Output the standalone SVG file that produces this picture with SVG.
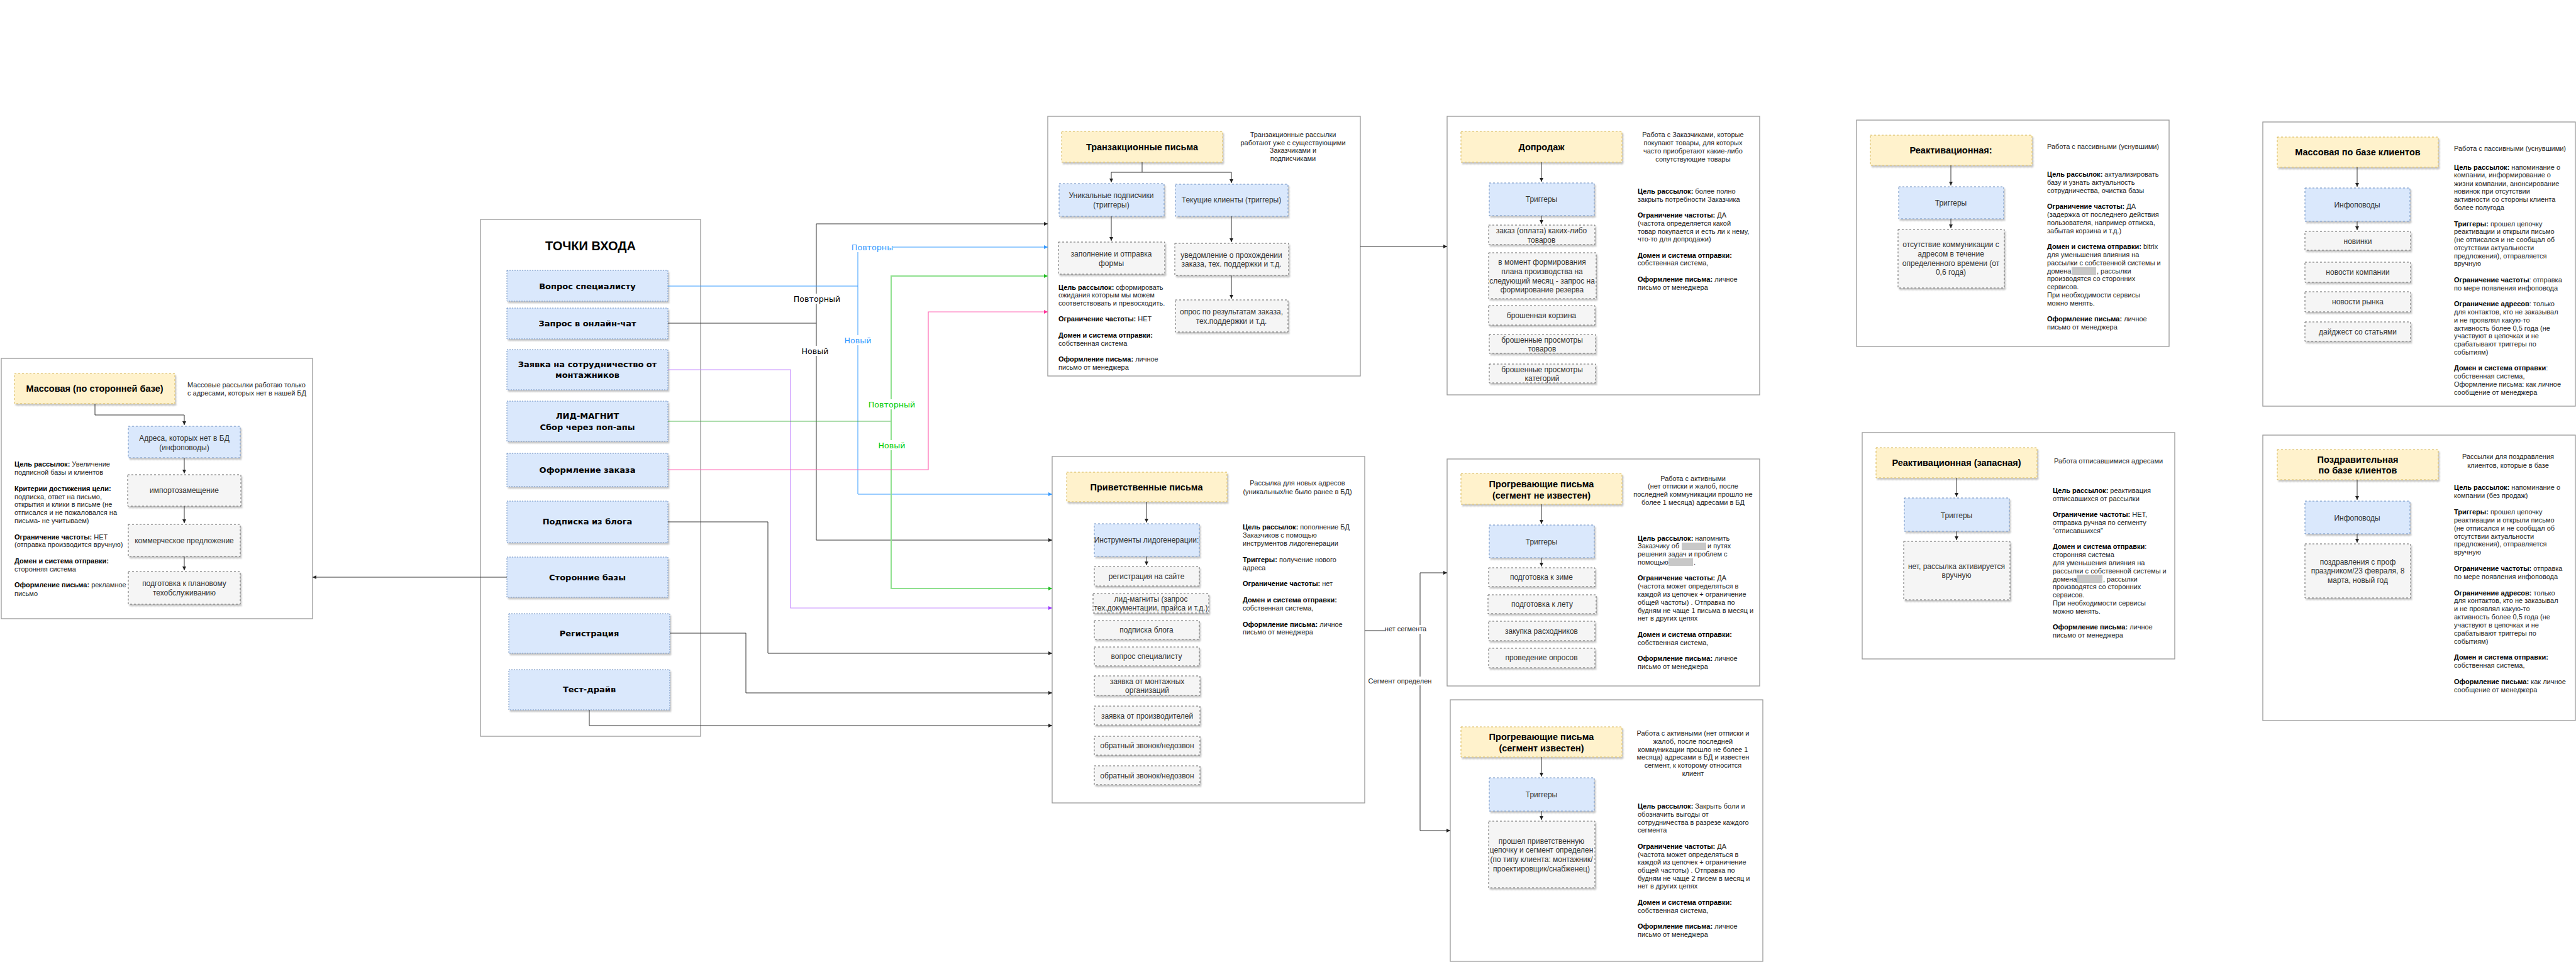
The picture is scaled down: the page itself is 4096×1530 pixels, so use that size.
<svg xmlns="http://www.w3.org/2000/svg" width="4096" height="1530" viewBox="0 0 4096 1530">
<defs>
<filter id="sh" x="-10%" y="-10%" width="130%" height="150%"><feDropShadow dx="2" dy="3" stdDeviation="1.2" flood-color="#000" flood-opacity="0.22"/></filter>
<marker id="aK" markerUnits="userSpaceOnUse" markerWidth="8" markerHeight="8" refX="6" refY="3" orient="auto"><path d="M0,0 L6,3 L0,6 Z" fill="#222"/></marker>
<marker id="aB" markerUnits="userSpaceOnUse" markerWidth="8" markerHeight="8" refX="6" refY="3" orient="auto"><path d="M0,0 L6,3 L0,6 Z" fill="#3399ff"/></marker>
<marker id="aG" markerUnits="userSpaceOnUse" markerWidth="8" markerHeight="8" refX="6" refY="3" orient="auto"><path d="M0,0 L6,3 L0,6 Z" fill="#22bb22"/></marker>
<marker id="aP" markerUnits="userSpaceOnUse" markerWidth="8" markerHeight="8" refX="6" refY="3" orient="auto"><path d="M0,0 L6,3 L0,6 Z" fill="#ff3399"/></marker>
<marker id="aV" markerUnits="userSpaceOnUse" markerWidth="8" markerHeight="8" refX="6" refY="3" orient="auto"><path d="M0,0 L6,3 L0,6 Z" fill="#9933ff"/></marker>
</defs>
<style>
.pn{fill:#fff;stroke:#999;stroke-width:1.3}
.y{fill:#fff2cc;stroke:#d6b656;stroke-dasharray:3 3;filter:url(#sh)}
.bl{fill:#dae8fc;stroke:#6c8ebf;stroke-dasharray:3 3;filter:url(#sh)}
.g{fill:#f5f5f5;stroke:#666;stroke-dasharray:3 3;filter:url(#sh)}
.en{fill:#dae8fc;stroke:#6c8ebf;stroke-dasharray:2 2;filter:url(#sh)}
.h{font-family:"Liberation Sans",Arial,sans-serif;font-size:14.5px;font-weight:bold;fill:#000;text-anchor:middle}
.bt{font-family:"Liberation Sans",Arial,sans-serif;font-size:12px;fill:#333;text-anchor:middle}
.d{font-family:"Liberation Sans",Arial,sans-serif;font-size:11px;fill:#222}
.dc{font-family:"Liberation Sans",Arial,sans-serif;font-size:11px;fill:#222;text-anchor:middle}
.k{font-weight:bold;fill:#000}
.et{font-family:"DejaVu Sans",Verdana,sans-serif;font-size:13px;font-weight:bold;fill:#000;text-anchor:middle}
.tt{font-family:"Liberation Sans",Arial,sans-serif;font-size:20px;font-weight:bold;fill:#000;text-anchor:middle}
.cl{font-family:"DejaVu Sans",Verdana,sans-serif;font-size:12.7px;text-anchor:middle}
.cs{font-family:"Liberation Sans",Arial,sans-serif;font-size:11px;fill:#222;text-anchor:middle}
.c{fill:none;stroke:#333;stroke-width:1}
.lb{fill:#fff}
.red{fill:#c8c8c8}
</style>
<rect width="4096" height="1530" fill="#fff"/>

<!-- Left panel: Массовая по сторонней базе -->
<g id="mass-third">
<rect class="pn" x="2" y="570" width="495" height="414"/>
<rect class="y" x="23" y="594" width="255" height="48"/>
<text class="h" x="150.5" y="623">Массовая (по сторонней базе)</text>
<text class="d"><tspan x="298" y="616">Массовые рассылки работаю только</tspan><tspan x="298" y="629">с адресами, которых нет в нашей БД</tspan></text>
<rect class="bl" x="204" y="678" width="178" height="50"/>
<text class="bt"><tspan x="293" y="701">Адреса, которых нет в БД</tspan><tspan x="293" y="716">(инфоповоды)</tspan></text>
<rect class="g" x="203" y="755" width="180" height="50"/>
<text class="bt" x="293" y="784">импортозамещение</text>
<rect class="g" x="204" y="834" width="178" height="51"/>
<text class="bt" x="293" y="864">коммерческое предложение</text>
<rect class="g" x="204" y="909" width="178" height="52"/>
<text class="bt"><tspan x="293" y="932">подготовка к плановому</tspan><tspan x="293" y="947">техобслуживанию</tspan></text>
<text class="d">
<tspan x="23" y="742"><tspan class="k">Цель рассылок:</tspan> Увеличение</tspan>
<tspan x="23" y="755">подписной базы и клиентов</tspan>
<tspan x="23" y="781" class="k">Критерии достижения цели:</tspan>
<tspan x="23" y="794">подписка, ответ на письмо,</tspan>
<tspan x="23" y="806">открытия и клики в письме (не</tspan>
<tspan x="23" y="819">отписался и не пожаловался на</tspan>
<tspan x="23" y="832">письма- не учитываем)</tspan>
<tspan x="23" y="858"><tspan class="k">Ограничение частоты:</tspan> НЕТ</tspan>
<tspan x="23" y="870">(отправка производится вручную)</tspan>
<tspan x="23" y="896" class="k">Домен и система отправки:</tspan>
<tspan x="23" y="909">сторонняя система</tspan>
<tspan x="23" y="934"><tspan class="k">Оформление письма:</tspan> рекламное</tspan>
<tspan x="23" y="948">письмо</tspan>
</text>
<path class="c" d="M151,642 V660 H293 V676" marker-end="url(#aK)"/>
<path class="c" d="M293,728 V753" marker-end="url(#aK)"/>
<path class="c" d="M293,805 V832" marker-end="url(#aK)"/>
<path class="c" d="M293,885 V907" marker-end="url(#aK)"/>
</g>

<!-- Entry points -->
<g id="entry-points">
<rect class="pn" x="764" y="349" width="350" height="822"/>
<text class="tt" x="939" y="398">ТОЧКИ ВХОДА</text>
<rect class="en" x="806" y="430" width="256" height="49"/>
<text class="et" x="934" y="459.5">Вопрос специалисту</text>
<rect class="en" x="806" y="490" width="256" height="49"/>
<text class="et" x="934" y="519">Запрос в онлайн-чат</text>
<rect class="en" x="806" y="556" width="256" height="64"/>
<text class="et"><tspan x="934" y="584">Заявка на сотрудничество от</tspan><tspan x="934" y="601">монтажников</tspan></text>
<rect class="en" x="806" y="638" width="256" height="64"/>
<text class="et"><tspan x="934" y="666">ЛИД-МАГНИТ</tspan><tspan x="934" y="684">Сбор через поп-апы</tspan></text>
<rect class="en" x="806" y="721" width="256" height="53"/>
<text class="et" x="934" y="752">Оформление заказа</text>
<rect class="en" x="806" y="797" width="256" height="66"/>
<text class="et" x="934" y="834">Подписка из блога</text>
<rect class="en" x="806" y="886" width="256" height="64"/>
<text class="et" x="934" y="923">Сторонние базы</text>
<rect class="en" x="809" y="976" width="256" height="63"/>
<text class="et" x="937" y="1012">Регистрация</text>
<rect class="en" x="809" y="1065" width="256" height="64"/>
<text class="et" x="937" y="1101">Тест-драйв</text>
</g>

<!-- Transactional -->
<g id="transactional">
<rect class="pn" x="1666" y="185" width="497" height="413"/>
<rect class="y" x="1688" y="209" width="256" height="49"/>
<text class="h" x="1816" y="239">Транзакционные письма</text>
<text class="dc"><tspan x="2056" y="218">Транзакционные рассылки</tspan><tspan x="2056" y="231">работают уже с существующими</tspan><tspan x="2056" y="243">Заказчиками и</tspan><tspan x="2056" y="256">подписчиками</tspan></text>
<rect class="bl" x="1684" y="292" width="167" height="52"/>
<text class="bt"><tspan x="1767" y="315">Уникальные подписчики</tspan><tspan x="1767" y="330">(триггеры)</tspan></text>
<rect class="bl" x="1869" y="293" width="179" height="51"/>
<text class="bt" x="1958" y="322">Текущие клиенты (триггеры)</text>
<rect class="g" x="1683" y="385" width="169" height="51"/>
<text class="bt"><tspan x="1767" y="408">заполнение и отправка</tspan><tspan x="1767" y="423">формы</tspan></text>
<rect class="g" x="1868" y="387" width="181" height="51"/>
<text class="bt"><tspan x="1958" y="410">уведомление о прохождении</tspan><tspan x="1958" y="424">заказа, тех. поддержки и т.д.</tspan></text>
<rect class="g" x="1869" y="477" width="179" height="51"/>
<text class="bt"><tspan x="1958" y="500">опрос по результатам заказа,</tspan><tspan x="1958" y="515">тех.поддержки и т.д.</tspan></text>
<text class="d">
<tspan x="1683" y="461"><tspan class="k">Цель рассылок:</tspan> сформировать</tspan>
<tspan x="1683" y="473">ожидания которым мы можем</tspan>
<tspan x="1683" y="486">соответствовать и превосходить.</tspan>
<tspan x="1683" y="511"><tspan class="k">Ограничение частоты:</tspan> НЕТ</tspan>
<tspan x="1683" y="537" class="k">Домен и система отправки:</tspan>
<tspan x="1683" y="550">собственная система</tspan>
<tspan x="1683" y="575"><tspan class="k">Оформление письма:</tspan> личное</tspan>
<tspan x="1683" y="588">письмо от менеджера</tspan>
</text>
<path class="c" d="M1816,258 V274 H1767 V290" marker-end="url(#aK)"/>
<path class="c" d="M1816,274 H1958 V291" marker-end="url(#aK)"/>
<path class="c" d="M1767,344 V383" marker-end="url(#aK)"/>
<path class="c" d="M1958,344 V385" marker-end="url(#aK)"/>
<path class="c" d="M1958,438 V475" marker-end="url(#aK)"/>
</g>

<!-- Upsell -->
<g id="upsell">
<rect class="pn" x="2301" y="185" width="497" height="443"/>
<rect class="y" x="2323" y="209" width="256" height="49"/>
<text class="h" x="2451" y="239">Допродаж</text>
<text class="dc"><tspan x="2692" y="218">Работа с Заказчиками, которые</tspan><tspan x="2692" y="231">покупают товары, для которых</tspan><tspan x="2692" y="244">часто приобретают какие-либо</tspan><tspan x="2692" y="257">сопутствующие товары</tspan></text>
<rect class="bl" x="2368" y="291" width="167" height="52"/>
<text class="bt" x="2451" y="321">Триггеры</text>
<rect class="g" x="2367" y="358" width="169" height="31"/>
<text class="bt"><tspan x="2451" y="371">заказ (оплата) каких-либо</tspan><tspan x="2451" y="386">товаров</tspan></text>
<rect class="g" x="2367" y="402" width="171" height="73"/>
<text class="bt"><tspan x="2452" y="421">в момент формирования</tspan><tspan x="2452" y="436">плана производства на</tspan><tspan x="2452" y="451">следующий месяц - запрос на</tspan><tspan x="2452" y="465">формирование резерва</tspan></text>
<rect class="g" x="2367" y="486" width="169" height="31"/>
<text class="bt" x="2451" y="506">брошенная корзина</text>
<rect class="g" x="2368" y="532" width="169" height="30"/>
<text class="bt"><tspan x="2452" y="545">брошенные просмотры</tspan><tspan x="2452" y="559">товаров</tspan></text>
<rect class="g" x="2368" y="579" width="169" height="30"/>
<text class="bt"><tspan x="2452" y="592">брошенные просмотры</tspan><tspan x="2452" y="606">категорий</tspan></text>
<text class="d">
<tspan x="2604" y="308"><tspan class="k">Цель рассылок:</tspan> более полно</tspan>
<tspan x="2604" y="321">закрыть потребности Заказчика</tspan>
<tspan x="2604" y="346"><tspan class="k">Ограничение частоты:</tspan> ДА</tspan>
<tspan x="2604" y="359">(частота определяется какой</tspan>
<tspan x="2604" y="372">товар покупается и есть ли к нему,</tspan>
<tspan x="2604" y="384">что-то для допродажи)</tspan>
<tspan x="2604" y="410" class="k">Домен и система отправки:</tspan>
<tspan x="2604" y="422">собственная система,</tspan>
<tspan x="2604" y="448"><tspan class="k">Оформление письма:</tspan> личное</tspan>
<tspan x="2604" y="461">письмо от менеджера</tspan>
</text>
<path class="c" d="M2451,258 V289" marker-end="url(#aK)"/>
<path class="c" d="M2451,343 V356" marker-end="url(#aK)"/>
</g>

<!-- Reactivation -->
<g id="reactivation">
<rect class="pn" x="2952" y="191" width="497" height="360"/>
<rect class="y" x="2974" y="215" width="257" height="48"/>
<text class="h" x="3102" y="244">Реактивационная:</text>
<text class="d" x="3255" y="237">Работа с пассивными (уснувшими)</text>
<rect class="bl" x="3019" y="297" width="167" height="51"/>
<text class="bt" x="3102" y="327">Триггеры</text>
<rect class="g" x="3018" y="365" width="169" height="93"/>
<text class="bt"><tspan x="3102" y="393">отсутствие коммуникации с</tspan><tspan x="3102" y="408">адресом в течение</tspan><tspan x="3102" y="423">определенного времени (от</tspan><tspan x="3102" y="437">0,6 года)</tspan></text>
<rect class="red" x="3294" y="425" width="39" height="12"/>
<text class="d">
<tspan x="3255" y="281"><tspan class="k">Цель рассылок:</tspan> актуализировать</tspan>
<tspan x="3255" y="294">базу и узнать актуальность</tspan>
<tspan x="3255" y="307">сотрудничества, очистка базы</tspan>
<tspan x="3255" y="332"><tspan class="k">Ограничение частоты:</tspan> ДА</tspan>
<tspan x="3255" y="345">(задержка от последнего действия</tspan>
<tspan x="3255" y="358">пользователя, например отписка,</tspan>
<tspan x="3255" y="371">забытая корзина и т.д.)</tspan>
<tspan x="3255" y="396"><tspan class="k">Домен и система отправки:</tspan> bitrix</tspan>
<tspan x="3255" y="409">для уменьшения влияния на</tspan>
<tspan x="3255" y="422">рассылки с собственной системы и</tspan>
<tspan x="3255" y="435">домена</tspan><tspan x="3334" y="435">, рассылки</tspan>
<tspan x="3255" y="447">производятся со сторонних</tspan>
<tspan x="3255" y="460">сервисов.</tspan>
<tspan x="3255" y="473">При необходимости сервисы</tspan>
<tspan x="3255" y="486">можно менять.</tspan>
<tspan x="3255" y="511"><tspan class="k">Оформление письма:</tspan> личное</tspan>
<tspan x="3255" y="524">письмо от менеджера</tspan>
</text>
<path class="c" d="M3102,263 V295" marker-end="url(#aK)"/>
<path class="c" d="M3102,348 V363" marker-end="url(#aK)"/>
</g>

<!-- Mass by client base -->
<g id="mass-clients">
<rect class="pn" x="3598" y="194" width="497" height="452"/>
<rect class="y" x="3621" y="218" width="256" height="48"/>
<text class="h" x="3749" y="247">Массовая по базе клиентов</text>
<text class="d" x="3902" y="240">Работа с пассивными (уснувшими)</text>
<rect class="bl" x="3665" y="299" width="167" height="53"/>
<text class="bt" x="3748" y="330">Инфоповоды</text>
<rect class="g" x="3665" y="368" width="168" height="30"/>
<text class="bt" x="3749" y="388">новинки</text>
<rect class="g" x="3665" y="417" width="168" height="32"/>
<text class="bt" x="3749" y="437">новости компании</text>
<rect class="g" x="3665" y="464" width="168" height="32"/>
<text class="bt" x="3749" y="484">новости рынка</text>
<rect class="g" x="3665" y="512" width="168" height="31"/>
<text class="bt" x="3749" y="532">дайджест со статьями</text>
<text class="d">
<tspan x="3902" y="270"><tspan class="k">Цель рассылок:</tspan> напоминание о</tspan>
<tspan x="3902" y="282">компании, информирование о</tspan>
<tspan x="3902" y="296">жизни компании, анонсирование</tspan>
<tspan x="3902" y="308">новинок при отсутствии</tspan>
<tspan x="3902" y="321">активности со стороны клиента</tspan>
<tspan x="3902" y="334">более полугода</tspan>
<tspan x="3902" y="360"><tspan class="k">Триггеры:</tspan> прошел цепочку</tspan>
<tspan x="3902" y="372">реактивации и открыли письмо</tspan>
<tspan x="3902" y="385">(не отписался и не сообщал об</tspan>
<tspan x="3902" y="398">отсутствии актуальности</tspan>
<tspan x="3902" y="411">предложения), отправляется</tspan>
<tspan x="3902" y="423">вручную</tspan>
<tspan x="3902" y="449"><tspan class="k">Ограничение частоты</tspan>: отправка</tspan>
<tspan x="3902" y="462">по мере появления инфоповода</tspan>
<tspan x="3902" y="487"><tspan class="k">Ограничение адресов</tspan>: только</tspan>
<tspan x="3902" y="500">для контактов, кто не заказывал</tspan>
<tspan x="3902" y="513">и не проявлял какую-то</tspan>
<tspan x="3902" y="526">активность более 0,5 года (не</tspan>
<tspan x="3902" y="538">участвуют в цепочках и не</tspan>
<tspan x="3902" y="551">срабатывают триггеры по</tspan>
<tspan x="3902" y="564">событиям)</tspan>
<tspan x="3902" y="589"><tspan class="k">Домен и система отправки</tspan>:</tspan>
<tspan x="3902" y="602">собственная система,</tspan>
<tspan x="3902" y="615">Оформление письма: как личное</tspan>
<tspan x="3902" y="628">сообщение от менеджера</tspan>
</text>
<path class="c" d="M3748,266 V297" marker-end="url(#aK)"/>
<path class="c" d="M3748,352 V366" marker-end="url(#aK)"/>
</g>

<!-- Welcome -->
<g id="welcome">
<rect class="pn" x="1673" y="726" width="497" height="551"/>
<rect class="y" x="1696" y="751" width="255" height="47"/>
<text class="h" x="1823" y="780">Приветственные  письма</text>
<text class="dc"><tspan x="2063" y="772">Рассылка для новых адресов</tspan><tspan x="2063" y="786">(уникальных/не было ранее в БД)</tspan></text>
<rect class="bl" x="1740" y="833" width="167" height="52"/>
<text class="bt" x="1823" y="863">Инструменты лидогенерации:</text>
<rect class="g" x="1740" y="901" width="167" height="31"/>
<text class="bt" x="1823" y="921">регистрация на сайте</text>
<rect class="g" x="1738" y="944" width="184" height="31"/>
<text class="bt"><tspan x="1830" y="957">лид-магниты (запрос</tspan><tspan x="1830" y="971">тех.документации, прайса и т.д.)</tspan></text>
<rect class="g" x="1740" y="987" width="167" height="30"/>
<text class="bt" x="1823" y="1006">подписка блога</text>
<rect class="g" x="1740" y="1029" width="167" height="30"/>
<text class="bt" x="1823" y="1048">вопрос специалисту</text>
<rect class="g" x="1740" y="1075" width="168" height="31"/>
<text class="bt"><tspan x="1824" y="1088">заявка от монтажных</tspan><tspan x="1824" y="1102">организаций</tspan></text>
<rect class="g" x="1740" y="1123" width="168" height="30"/>
<text class="bt" x="1824" y="1143">заявка от производителей</text>
<rect class="g" x="1740" y="1171" width="168" height="30"/>
<text class="bt" x="1824" y="1190">обратный звонок/недозвон</text>
<rect class="g" x="1740" y="1218" width="168" height="30"/>
<text class="bt" x="1824" y="1238">обратный звонок/недозвон</text>
<text class="d">
<tspan x="1976" y="842"><tspan class="k">Цель рассылок:</tspan> пополнение БД</tspan>
<tspan x="1976" y="855">Заказчиков с помощью</tspan>
<tspan x="1976" y="868">инструментов лидогенерации</tspan>
<tspan x="1976" y="894"><tspan class="k">Триггеры:</tspan> получение нового</tspan>
<tspan x="1976" y="907">адреса</tspan>
<tspan x="1976" y="932"><tspan class="k">Ограничение частоты:</tspan> нет</tspan>
<tspan x="1976" y="958" class="k">Домен и система отправки:</tspan>
<tspan x="1976" y="971">собственная система,</tspan>
<tspan x="1976" y="997"><tspan class="k">Оформление письма:</tspan> личное</tspan>
<tspan x="1976" y="1009">письмо от менеджера</tspan>
</text>
<path class="c" d="M1823,798 V831" marker-end="url(#aK)"/>
<path class="c" d="M1823,885 V899" marker-end="url(#aK)"/>
</g>

<!-- Warm-up (unknown segment) -->
<g id="warmup-unknown">
<rect class="pn" x="2301" y="730" width="497" height="361"/>
<rect class="y" x="2323" y="753" width="256" height="49"/>
<text class="h"><tspan x="2451" y="775">Прогревающие  письма</tspan><tspan x="2451" y="793">(сегмент не известен)</tspan></text>
<text class="dc"><tspan x="2692" y="765">Работа с активными</tspan><tspan x="2692" y="777">(нет отписки и жалоб, после</tspan><tspan x="2692" y="790">последней коммуникации прошло не</tspan><tspan x="2692" y="803">более 1 месяца) адресами в БД</tspan></text>
<rect class="bl" x="2368" y="835" width="167" height="52"/>
<text class="bt" x="2451" y="866">Триггеры</text>
<rect class="g" x="2367" y="903" width="169" height="30"/>
<text class="bt" x="2451" y="922">подготовка к зиме</text>
<rect class="g" x="2366" y="946" width="172" height="30"/>
<text class="bt" x="2452" y="965">подготовка к лету</text>
<rect class="g" x="2367" y="988" width="169" height="31"/>
<text class="bt" x="2451" y="1008">закупка расходников</text>
<rect class="g" x="2367" y="1031" width="169" height="31"/>
<text class="bt" x="2451" y="1050">проведение опросов</text>
<rect class="red" x="2674" y="863" width="39" height="12"/>
<rect class="red" x="2653" y="888" width="39" height="12"/>
<text class="d">
<tspan x="2604" y="860"><tspan class="k">Цель рассылок:</tspan> напомнить</tspan>
<tspan x="2604" y="872">Заказчику об</tspan><tspan x="2715" y="872">и путях</tspan>
<tspan x="2604" y="885">решения задач и проблем с</tspan>
<tspan x="2604" y="898">помощью</tspan><tspan x="2693" y="898">.</tspan>
<tspan x="2604" y="923"><tspan class="k">Ограничение частоты:</tspan> ДА</tspan>
<tspan x="2604" y="936">(частота может определяться в</tspan>
<tspan x="2604" y="949">каждой из цепочек + ограничение</tspan>
<tspan x="2604" y="962">общей частоты) . Отправка по</tspan>
<tspan x="2604" y="975">будням не чаще 1 письма в месяц и</tspan>
<tspan x="2604" y="987">нет в других цепях</tspan>
<tspan x="2604" y="1013" class="k">Домен и система отправки:</tspan>
<tspan x="2604" y="1026">собственная система,</tspan>
<tspan x="2604" y="1051"><tspan class="k">Оформление письма:</tspan> личное</tspan>
<tspan x="2604" y="1064">письмо от менеджера</tspan>
</text>
<path class="c" d="M2451,802 V833" marker-end="url(#aK)"/>
<path class="c" d="M2451,887 V901" marker-end="url(#aK)"/>
</g>

<!-- Warm-up (known segment) -->
<g id="warmup-known">
<rect class="pn" x="2306" y="1113" width="497" height="416"/>
<rect class="y" x="2323" y="1156" width="256" height="48"/>
<text class="h"><tspan x="2451" y="1177">Прогревающие  письма</tspan><tspan x="2451" y="1195">(сегмент известен)</tspan></text>
<text class="dc"><tspan x="2692" y="1170">Работа с активными (нет отписки и</tspan><tspan x="2692" y="1183">жалоб, после последней</tspan><tspan x="2692" y="1196">коммуникации прошло не более 1</tspan><tspan x="2692" y="1208">месяца) адресами в БД и известен</tspan><tspan x="2692" y="1221">сегмент, к которому относится</tspan><tspan x="2692" y="1234">клиент</tspan></text>
<rect class="bl" x="2368" y="1237" width="167" height="53"/>
<text class="bt" x="2451" y="1268">Триггеры</text>
<rect class="g" x="2367" y="1306" width="169" height="106"/>
<text class="bt"><tspan x="2451" y="1342">прошел приветственную</tspan><tspan x="2451" y="1356">цепочку и сегмент определен</tspan><tspan x="2451" y="1371">(по типу клиента: монтажник/</tspan><tspan x="2451" y="1386">проектировщик/снабженец)</tspan></text>
<text class="d">
<tspan x="2604" y="1286"><tspan class="k">Цель рассылок:</tspan> Закрыть боли и</tspan>
<tspan x="2604" y="1299">обозначить выгоды от</tspan>
<tspan x="2604" y="1312">сотрудничества в разрезе каждого</tspan>
<tspan x="2604" y="1324">сегмента</tspan>
<tspan x="2604" y="1350"><tspan class="k">Ограничение частоты:</tspan> ДА</tspan>
<tspan x="2604" y="1363">(частота может определяться в</tspan>
<tspan x="2604" y="1375">каждой из цепочек + ограничение</tspan>
<tspan x="2604" y="1388">общей частоты) . Отправка по</tspan>
<tspan x="2604" y="1401">будням не чаще 2 писем в месяц и</tspan>
<tspan x="2604" y="1413">нет в других цепях</tspan>
<tspan x="2604" y="1439" class="k">Домен и система отправки:</tspan>
<tspan x="2604" y="1452">собственная система,</tspan>
<tspan x="2604" y="1477"><tspan class="k">Оформление письма:</tspan> личное</tspan>
<tspan x="2604" y="1490">письмо от менеджера</tspan>
</text>
<path class="c" d="M2451,1204 V1235" marker-end="url(#aK)"/>
<path class="c" d="M2451,1290 V1304" marker-end="url(#aK)"/>
</g>

<!-- Reactivation (reserve) -->
<g id="reactivation-reserve">
<rect class="pn" x="2961" y="688" width="497" height="360"/>
<rect class="y" x="2983" y="712" width="256" height="48"/>
<text class="h" x="3111" y="741">Реактивационная (запасная)</text>
<text class="d" x="3266" y="737">Работа отписавшимися адресами</text>
<rect class="bl" x="3028" y="792" width="167" height="53"/>
<text class="bt" x="3111" y="824">Триггеры</text>
<rect class="g" x="3027" y="861" width="169" height="93"/>
<text class="bt"><tspan x="3111" y="905">нет, рассылка активируется</tspan><tspan x="3111" y="919">вручную</tspan></text>
<rect class="red" x="3302" y="914" width="41" height="13"/>
<text class="d">
<tspan x="3264" y="784"><tspan class="k">Цель рассылок:</tspan> реактивация</tspan>
<tspan x="3264" y="797">отписавшихся от рассылки</tspan>
<tspan x="3264" y="822"><tspan class="k">Ограничение частоты:</tspan> НЕТ,</tspan>
<tspan x="3264" y="835">отправка ручная по сегменту</tspan>
<tspan x="3264" y="848">“отписавшихся”</tspan>
<tspan x="3264" y="873"><tspan class="k">Домен и система отправки</tspan>:</tspan>
<tspan x="3264" y="886">сторонняя система</tspan>
<tspan x="3264" y="899">для уменьшения влияния на</tspan>
<tspan x="3264" y="912">рассылки с собственной системы и</tspan>
<tspan x="3264" y="925">домена</tspan><tspan x="3344" y="925">, рассылки</tspan>
<tspan x="3264" y="937">производятся со сторонних</tspan>
<tspan x="3264" y="950">сервисов.</tspan>
<tspan x="3264" y="963">При необходимости сервисы</tspan>
<tspan x="3264" y="976">можно менять.</tspan>
<tspan x="3264" y="1001"><tspan class="k">Оформление письма:</tspan> личное</tspan>
<tspan x="3264" y="1014">письмо от менеджера</tspan>
</text>
<path class="c" d="M3111,760 V790" marker-end="url(#aK)"/>
<path class="c" d="M3111,845 V859" marker-end="url(#aK)"/>
</g>

<!-- Congratulation -->
<g id="congrats">
<rect class="pn" x="3598" y="692" width="497" height="454"/>
<rect class="y" x="3621" y="715" width="256" height="48"/>
<text class="h"><tspan x="3749" y="736">Поздравительная</tspan><tspan x="3749" y="753">по базе клиентов</tspan></text>
<text class="dc"><tspan x="3988" y="730">Рассылки для поздравления</tspan><tspan x="3988" y="744">клиентов, которые в базе</tspan></text>
<rect class="bl" x="3665" y="797" width="167" height="52"/>
<text class="bt" x="3748" y="828">Инфоповоды</text>
<rect class="g" x="3665" y="865" width="168" height="86"/>
<text class="bt"><tspan x="3749" y="898">поздравления  с проф</tspan><tspan x="3749" y="912">праздником/23 февраля, 8</tspan><tspan x="3749" y="927">марта, новый год</tspan></text>
<text class="d">
<tspan x="3902" y="779"><tspan class="k">Цель рассылок:</tspan> напоминание о</tspan>
<tspan x="3902" y="792">компании (без продаж)</tspan>
<tspan x="3902" y="818"><tspan class="k">Триггеры:</tspan> прошел цепочку</tspan>
<tspan x="3902" y="831">реактивации и открыли письмо</tspan>
<tspan x="3902" y="844">(не отписался и не сообщал об</tspan>
<tspan x="3902" y="857">отсутствии актуальности</tspan>
<tspan x="3902" y="869">предложения), отправляется</tspan>
<tspan x="3902" y="882">вручную</tspan>
<tspan x="3902" y="908"><tspan class="k">Ограничение частоты:</tspan> отправка</tspan>
<tspan x="3902" y="921">по мере появления инфоповода</tspan>
<tspan x="3902" y="947"><tspan class="k">Ограничение адресов:</tspan> только</tspan>
<tspan x="3902" y="959">для контактов, кто не заказывал</tspan>
<tspan x="3902" y="972">и не проявлял какую-то</tspan>
<tspan x="3902" y="985">активность более 0,5 года (не</tspan>
<tspan x="3902" y="998">участвуют в цепочках и не</tspan>
<tspan x="3902" y="1011">срабатывают триггеры по</tspan>
<tspan x="3902" y="1024">событиям)</tspan>
<tspan x="3902" y="1049" class="k">Домен и система отправки:</tspan>
<tspan x="3902" y="1062">собственная система,</tspan>
<tspan x="3902" y="1088"><tspan class="k">Оформление письма:</tspan> как личное</tspan>
<tspan x="3902" y="1101">сообщение от менеджера</tspan>
</text>
<path class="c" d="M3748,763 V795" marker-end="url(#aK)"/>
<path class="c" d="M3748,849 V863" marker-end="url(#aK)"/>
</g>

<!-- Connectors -->
<g id="connectors">
<path class="c" d="M806,918 H497" marker-end="url(#aK)"/>
<path class="c" d="M1062,514 H1298 V356 H1666" marker-end="url(#aK)"/>
<path class="c" d="M1298,514 V859 H1673" marker-end="url(#aK)"/>
<path d="M1062,455 H1364 V393 H1666" fill="none" stroke="#3399ff" marker-end="url(#aB)"/>
<path d="M1364,455 V786 H1673" fill="none" stroke="#3399ff" marker-end="url(#aB)"/>
<path d="M1062,588 H1257 V967 H1673" fill="none" stroke="#c68cff" stroke-width="1.2" marker-end="url(#aV)"/>
<path d="M1062,670 H1417" fill="none" stroke="#33aa33" stroke-width="0.8"/>
<path d="M1417,670 V439 H1666" fill="none" stroke="#8fe08f" stroke-width="2" marker-end="url(#aG)"/>
<path d="M1417,670 V936 H1673" fill="none" stroke="#8fe08f" stroke-width="2" marker-end="url(#aG)"/>
<path d="M1062,747 H1476 V496 H1666" fill="none" stroke="#ff66b3" stroke-width="1.2" marker-end="url(#aP)"/>
<path class="c" d="M1062,830 H1221 V1039 H1673" marker-end="url(#aK)"/>
<path class="c" d="M1065,1007 H1186 V1102 H1673" marker-end="url(#aK)"/>
<path class="c" d="M937,1129 V1154 H1673" marker-end="url(#aK)"/>
<path class="c" d="M2163,392 H2301" marker-end="url(#aK)"/>
<path class="c" d="M2170,1003 H2258 V911 H2301" marker-end="url(#aK)"/>
<path class="c" d="M2258,1003 V1321 H2306" marker-end="url(#aK)"/>
<rect class="lb" x="1262" y="467" width="74" height="16"/>
<text class="cl" x="1299" y="480" fill="#000">Повторный</text>
<rect class="lb" x="1274" y="550" width="44" height="16"/>
<text class="cl" x="1296" y="563" fill="#000">Новый</text>
<rect class="lb" x="1354" y="385" width="66" height="16"/>
<text class="cl" x="1387" y="398" fill="#3399ff">Повторны</text>
<rect class="lb" x="1342" y="533" width="44" height="16"/>
<text class="cl" x="1364" y="546" fill="#3399ff">Новый</text>
<rect class="lb" x="1381" y="635" width="74" height="16"/>
<text class="cl" x="1418" y="648" fill="#00cc00">Повторный</text>
<rect class="lb" x="1396" y="700" width="44" height="16"/>
<text class="cl" x="1418" y="713" fill="#00cc00">Новый</text>
<rect class="lb" x="2203" y="994" width="64" height="14"/>
<text class="cs" x="2235" y="1004">нет сегмента</text>
<rect class="lb" x="2181" y="1076" width="90" height="14"/>
<text class="cs" x="2226" y="1087">Сегмент определен</text>
</g>
</svg>
